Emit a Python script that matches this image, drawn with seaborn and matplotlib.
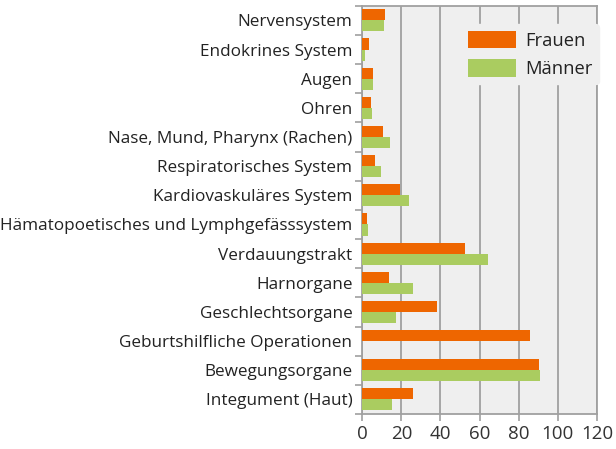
"""
Horizontal grouped bar chart: Frauen vs. Männer by organ system.
"""

import numpy as np
import pandas as pd
import seaborn as sns
import matplotlib.pyplot as plt

CATEGORIES = [
    "Nervensystem",
    "Endokrines System",
    "Augen",
    "Ohren",
    "Nase, Mund, Pharynx (Rachen)",
    "Respiratorisches System",
    "Kardiovaskuläres System",
    "Hämatopoetisches und Lymphgefässsystem",
    "Verdauungstrakt",
    "Harnorgane",
    "Geschlechtsorgane",
    "Geburtshilfliche Operationen",
    "Bewegungsorgane",
    "Integument (Haut)",
]
FRAUEN = [11.6, 3.4, 5.5, 4.5, 10.6, 6.5, 19.3, 2.4, 52.6, 13.7, 38.2, 85.9, 90.5, 26.0]
MAENNER = [11.1, 1.4, 5.5, 5.0, 14.2, 9.6, 23.9, 2.9, 64.4, 26.0, 17.3, 0.0, 91.0, 15.2]
SERIES = ["Frauen", "Männer"]
X_TICKS = [0, 20, 40, 60, 80, 100, 120]

COLORS = {"Frauen": "#ee6600", "Männer": "#aacc60"}
GRID_GREY = "#a0a0a0"
PANEL = "#efefef"


def build_frame() -> pd.DataFrame:
    df = pd.DataFrame({"Kategorie": CATEGORIES, "Frauen": FRAUEN, "Männer": MAENNER})
    return df.melt(id_vars="Kategorie", value_vars=SERIES, var_name="Geschlecht", value_name="Wert")


def main() -> None:
    sns.set_style("white")
    plt.rcParams["font.family"] = ["Open Sans", "DejaVu Sans"]

    df = build_frame()

    fig = plt.figure(figsize=(6.16, 4.49), dpi=100)
    ax = fig.add_axes([0.588, 0.078, 0.381, 0.909])
    ax.set_facecolor(PANEL)

    sns.barplot(
        data=df, y="Kategorie", x="Wert", hue="Geschlecht",
        order=CATEGORIES, hue_order=SERIES, palette=COLORS,
        orient="h", width=0.76, saturation=1, linewidth=0, ax=ax, zorder=3,
    )

    ax.set_xlim(0, 120)
    ax.set_ylim(len(CATEGORIES) - 0.5, -0.5)
    ax.set_xticks(X_TICKS)
    ax.set_xticklabels([str(t) for t in X_TICKS], fontsize=13.5, color="#333333")
    ax.xaxis.grid(True, color=GRID_GREY, linewidth=1.3, zorder=0)
    ax.set_axisbelow(True)

    # category labels centred on bars, tick marks on the boundaries
    ax.set_yticks(np.arange(len(CATEGORIES)))
    ax.set_yticklabels(CATEGORIES, fontsize=12.3, color="#222222")
    ax.tick_params(axis="y", which="major", left=True, length=0, pad=7)
    ax.set_yticks(np.arange(len(CATEGORIES) + 1) - 0.5, minor=True)
    ax.tick_params(axis="y", which="minor", left=True, length=5, color=GRID_GREY, width=1.2)
    ax.tick_params(axis="x", bottom=True, length=5, color=GRID_GREY, width=1.2, pad=3)

    ax.set_xlabel("")
    ax.set_ylabel("")
    for side in ["top", "right", "bottom", "left"]:
        ax.spines[side].set_color(GRID_GREY)
        ax.spines[side].set_linewidth(1.3)

    leg = ax.legend(
        loc="upper left", bbox_to_anchor=(0.385, 0.977), frameon=True,
        fontsize=13.2, handlelength=2.6, handleheight=1.1,
        labelspacing=0.5, handletextpad=0.5, borderpad=0.35,
    )
    leg.get_frame().set_facecolor(PANEL)
    leg.get_frame().set_edgecolor(PANEL)
    leg.get_frame().set_alpha(1)
    leg.set_zorder(5)
    for t in leg.get_texts():
        t.set_color("#222222")

    fig.savefig("out.png", dpi=100)
    plt.close(fig)


if __name__ == "__main__":
    main()
